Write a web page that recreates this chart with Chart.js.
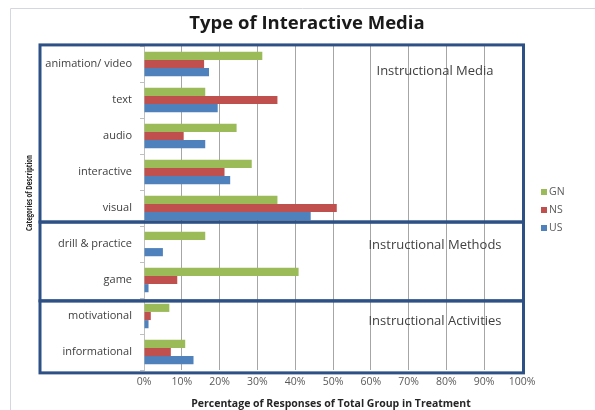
<!DOCTYPE html>
<html>
<head>
<meta charset="utf-8">
<script src="https://cdn.jsdelivr.net/npm/chart.js@4/dist/chart.umd.min.js"></script>
<style>
  html, body { margin: 0; padding: 0; background: #ffffff; }
  #wrap { width: 595px; height: 410px; position: relative; }
</style>
</head>
<body>
<div id="wrap"><canvas id="c" width="595" height="410"></canvas></div>
<script>
const categories = ["animation/ video", "text", "audio", "interactive", "visual",
                    "drill & practice", "game", "motivational", "informational"];
const seriesNames = ["GN", "NS", "US"];
const gnValues = [31.3, 16.2, 24.5, 28.5, 35.3, 16.2, 40.9, 6.7, 10.9];
const nsValues = [15.9, 35.3, 10.5, 21.3, 51.0, 0, 8.8, 1.8, 7.1];
const usValues = [17.2, 19.5, 16.2, 22.8, 44.1, 5.0, 1.2, 1.2, 13.1];
const seriesColors = ["#9BBB59", "#C0504D", "#4F81BD"];
const tickValues = [0, 10, 20, 30, 40, 50, 60, 70, 80, 90, 100];
const groupNames = ["Instructional Media", "Instructional Methods", "Instructional Activities"];
// group spans in category-index units (top edge, bottom edge)
const groupSpans = [[-0.53, 4.39], [4.39, 6.58], [6.58, 8.58]];
const chartTitle = "Type of Interactive Media";
const xTitle = "Percentage of Responses of Total Group in Treatment";
const yTitle = "Categories of Description";

const BOX_COLOR = "#2D5085";
const TEXT_COLOR = "#404040";

const extras = {
  id: "extras",
  beforeDraw(chart) {
    const ctx = chart.ctx;
    ctx.save();
    ctx.strokeStyle = "#D4D8DE";
    ctx.lineWidth = 1;
    ctx.beginPath();
    ctx.moveTo(10.5, 410); ctx.lineTo(10.5, 8.5); ctx.lineTo(595, 8.5);
    ctx.stroke();
    ctx.restore();
  },
  afterDraw(chart) {
    const ctx = chart.ctx;
    const y = chart.scales.y;
    const area = chart.chartArea;
    ctx.save();
    ctx.strokeStyle = BOX_COLOR;
    ctx.lineWidth = 3;
    const left = 40, right = area.right + 1.5;
    groupSpans.forEach((s, i) => {
      const t = y.getPixelForValue(s[0]);
      const b = y.getPixelForValue(s[1]);
      ctx.strokeRect(left, t, right - left, b - t);
      ctx.fillStyle = TEXT_COLOR;
      ctx.font = "13px 'Open Sans'";
      ctx.textAlign = "center";
      ctx.textBaseline = "middle";
      const ly = t + (i === 0 ? 26 : (i === 1 ? 23 : 20));
      ctx.fillText(groupNames[i], 435, ly);
    });
    ctx.fillStyle = "#1a1a1a";
    ctx.font = "bold 18.5px 'Open Sans'";
    ctx.textAlign = "center";
    ctx.textBaseline = "middle";
    ctx.fillText(chartTitle, 307, 24);
    ctx.fillStyle = "#262626";
    ctx.font = "bold 10.5px 'Open Sans'";
    ctx.fillText(xTitle, 331, 404);
    ctx.save();
    ctx.translate(29, 193);
    ctx.rotate(-Math.PI / 2);
    ctx.font = "bold 9px 'Open Sans'";
    const w = ctx.measureText(yTitle).width;
    ctx.scale(76 / w, 1);
    ctx.fillText(yTitle, 0, 0);
    ctx.restore();
    ctx.font = "10.5px 'Open Sans'";
    ctx.textAlign = "left";
    ctx.textBaseline = "middle";
    const legY = [192, 210, 228];
    seriesNames.forEach((n, i) => {
      ctx.fillStyle = seriesColors[i];
      ctx.fillRect(541, legY[i] - 3, 6, 6);
      ctx.fillStyle = "#595959";
      ctx.fillText(n, 549, legY[i]);
    });
    ctx.restore();
  }
};

new Chart(document.getElementById("c"), {
  type: "bar",
  data: {
    labels: categories,
    datasets: [
      { label: seriesNames[0], data: gnValues, backgroundColor: seriesColors[0] },
      { label: seriesNames[1], data: nsValues, backgroundColor: seriesColors[1] },
      { label: seriesNames[2], data: usValues, backgroundColor: seriesColors[2] }
    ]
  },
  options: {
    indexAxis: "y",
    responsive: false,
    animation: false,
    devicePixelRatio: 1,
    layout: { padding: { top: 46, right: 73, bottom: 0, left: 0 } },
    datasets: { bar: { categoryPercentage: 0.68, barPercentage: 1.0, borderWidth: 0 } },
    plugins: { legend: { display: false }, title: { display: false }, tooltip: { enabled: false } },
    scales: {
      x: {
        min: 0, max: 100,
        afterFit(s) { s.height = 40; },
        afterBuildTicks(s) { s.ticks = tickValues.map(v => ({ value: v })); },
        ticks: {
          callback: v => v + "%",
          color: "#595959",
          font: { family: "'Open Sans'", size: 10.5 },
          padding: 6,
          maxRotation: 0
        },
        grid: { color: "#A6A6A6", lineWidth: 1, drawTicks: false },
        border: { display: false }
      },
      y: {
        afterFit(s) { s.width = 144; },
        ticks: {
          color: TEXT_COLOR,
          font: { family: "'Open Sans'", size: 11 },
          padding: 8
        },
        grid: { drawOnChartArea: false, drawTicks: true, tickLength: 4, color: "#BFBFBF", offset: true },
        border: { display: true, color: "#BFBFBF" }
      }
    }
  },
  plugins: [extras]
});
</script>
</body>
</html>
